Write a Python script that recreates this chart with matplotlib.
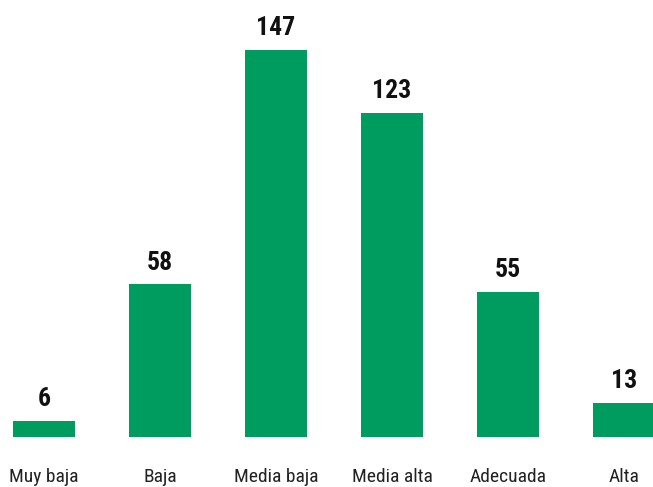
import matplotlib
matplotlib.use('Agg')
import matplotlib.pyplot as plt

# Data kategori dan nilai
categorias = ['Muy baja', 'Baja', 'Media baja', 'Media alta', 'Adecuada', 'Alta']
valores = [6, 58, 147, 123, 55, 13]

plt.rcParams['font.family'] = ['Roboto Condensed', 'DejaVu Sans']

color_barra = '#009B5E'

fig = plt.figure(figsize=(6.53, 4.87), dpi=100)
ax = fig.add_axes([0, 50 / 487, 1, 437 / 487])

x = list(range(len(categorias)))
barras = ax.bar(x, valores, width=0.534, color=color_barra)

for xi, v in zip(x, valores):
    ax.annotate(str(v), (xi, v), xytext=(0, 7), textcoords='offset points',
                ha='center', va='bottom', fontsize=18.5, fontweight='bold', color='#111111')

ax.set_xlim(-44 / 116, 5 + 29 / 116)
ax.set_ylim(0, 437 / (387 / 147))
ax.set_xticks(x)
ax.set_xticklabels(categorias, fontsize=14, color='#222222')
ax.tick_params(axis='x', length=0, pad=22)
ax.set_yticks([])
for s in ax.spines.values():
    s.set_visible(False)

fig.savefig('out.png', dpi=100)
